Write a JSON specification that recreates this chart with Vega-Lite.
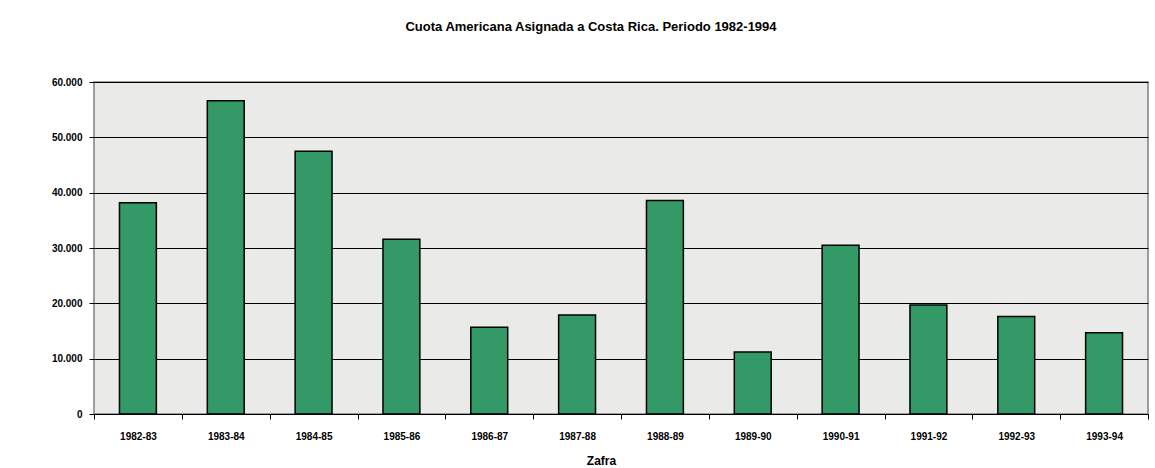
{
  "$schema": "https://vega.github.io/schema/vega-lite/v6.json",
  "autosize": {"type": "none"},
  "width": 1054,
  "height": 332,
  "padding": {"left": 94, "top": 82, "right": 7, "bottom": 54},
  "background": "white",
  "title": {
    "text": "Cuota Americana Asignada a Costa Rica. Periodo 1982-1994",
    "font": "Liberation Sans",
    "fontSize": 13,
    "fontWeight": "bold",
    "color": "black",
    "anchor": "middle",
    "dx": -30,
    "offset": 43
  },
  "data": {
    "values": [
      {"zafra": "1982-83", "cuota": 38200},
      {"zafra": "1983-84", "cuota": 56600},
      {"zafra": "1984-85", "cuota": 47500},
      {"zafra": "1985-86", "cuota": 31600},
      {"zafra": "1986-87", "cuota": 15700},
      {"zafra": "1987-88", "cuota": 17900},
      {"zafra": "1988-89", "cuota": 38600},
      {"zafra": "1989-90", "cuota": 11200},
      {"zafra": "1990-91", "cuota": 30500},
      {"zafra": "1991-92", "cuota": 19700},
      {"zafra": "1992-93", "cuota": 17600},
      {"zafra": "1993-94", "cuota": 14700}
    ]
  },
  "mark": {"type": "bar", "color": "#339966", "stroke": "black", "strokeWidth": 1.5, "width": {"band": 0.42}},
  "encoding": {
    "x": {
      "field": "zafra",
      "type": "nominal",
      "sort": null,
      "scale": {"paddingInner": 0, "paddingOuter": 0},
      "axis": {
        "title": "Zafra",
        "titleFont": "Liberation Sans",
        "titleFontSize": 12,
        "titleFontWeight": "bold",
        "titleColor": "black",
        "titleX": 507,
        "titleY": 46,
        "titleBaseline": "middle",
        "labelAngle": 0,
        "labelFont": "Liberation Sans",
        "labelFontSize": 10,
        "labelFontWeight": "bold",
        "labelColor": "black",
        "labelPadding": 12,
        "tickBand": "extent",
        "tickSize": 5,
        "tickColor": "black",
        "domainColor": "black",
        "grid": false
      }
    },
    "y": {
      "field": "cuota",
      "type": "quantitative",
      "scale": {"domain": [0, 60000]},
      "axis": {
        "title": null,
        "values": [0, 10000, 20000, 30000, 40000, 50000, 60000],
        "labelExpr": "replace(format(datum.value, ','), ',', '.')",
        "labelFont": "Liberation Sans",
        "labelFontSize": 10,
        "labelFontWeight": "bold",
        "labelColor": "black",
        "labelPadding": 7,
        "tickSize": 5,
        "tickColor": "black",
        "domain": false,
        "grid": true,
        "gridColor": "black",
        "gridWidth": 1,
        "gridOpacity": 1
      }
    }
  },
  "config": {
    "view": {"fill": "#eaeae8", "stroke": "#808080", "strokeWidth": 1.5}
  }
}
